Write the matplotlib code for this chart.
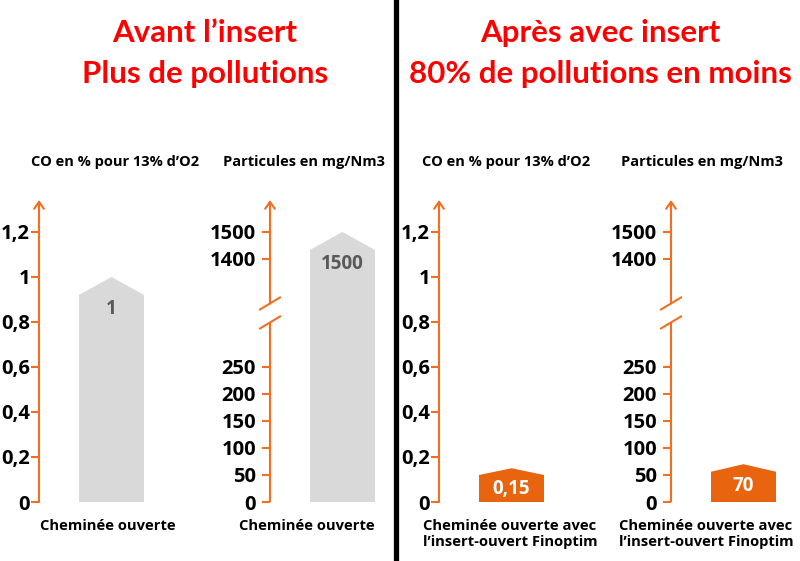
import numpy as np
import matplotlib
matplotlib.use("Agg")
import matplotlib.pyplot as plt
from matplotlib.transforms import IdentityTransform
from matplotlib.lines import Line2D

plt.rcParams["font.family"] = ["Open Sans", "DejaVu Sans"]

# data
titles = [["Avant l\u2019insert", "Plus de pollutions"],
          ["Apr\u00e8s avec insert", "80% de pollutions en moins"]]
measure_names = ["CO en % pour 13% d\u2019O2", "Particules en mg/Nm3"]
co_values = [1.0, 0.15]            # avant, apres
particle_values = [1500, 70]       # avant, apres
co_labels = ["1", "0,15"]
particle_labels = ["1500", "70"]
categories = ["Chemin\u00e9e ouverte", "Chemin\u00e9e ouverte avec\nl\u2019insert-ouvert Finoptim"]
co_ticks = [0, 0.2, 0.4, 0.6, 0.8, 1.0, 1.2]
particle_ticks = [0, 50, 100, 150, 200, 250, 1400, 1500]

ORANGE = "#F26F21"
BAR_ORANGE = "#E8640F"
GREY = "#D9D9D9"
W, H = 800, 561

# broken scale for particles: 0-250 and 1400-1500 shown, middle squeezed
brk_x = [-1000, 0, 250, 1400, 3000]
brk_y = [-2.4, 0, 0.6, 1.08, 3.0]


def fwd(v):
    return np.interp(v, brk_x, brk_y)


def inv(s):
    return np.interp(s, brk_y, brk_x)


fig = plt.figure(figsize=(W / 100, H / 100), dpi=100)
fig.patch.set_facecolor("white")

TOP = 1.342  # arrow tip, in CO units


def make_axes(xpix, broken):
    ax = fig.add_axes([xpix / W, (H - 502) / H, 130 / W, 302 / H])
    ax.set_xlim(0, 130)
    if broken:
        ax.set_yscale("function", functions=(fwd, inv))
        ax.set_ylim(0, inv(TOP))
    else:
        ax.set_ylim(0, TOP)
    for s in ax.spines.values():
        s.set_visible(False)
    ax.set_xticks([])
    ax.patch.set_alpha(0)
    ax.tick_params(axis="y", length=6, width=1.5, color=ORANGE,
                   pad=4 if broken else 0.5, labelsize=14.5)
    return ax


def axis_line(ax, start, stop, arrow):
    tr = ax.get_yaxis_transform()
    if arrow:
        ax.annotate("", xy=(0, stop), xytext=(0, start), xycoords=tr, textcoords=tr,
                    arrowprops=dict(arrowstyle="->,head_length=0.5,head_width=0.35",
                                    color=ORANGE, lw=1.5, shrinkA=0, shrinkB=0),
                    annotation_clip=False)
    else:
        ax.plot([0, 0], [start, stop], transform=tr, color=ORANGE, lw=1.5,
                clip_on=False, solid_capstyle="butt")


def house_bar(ax, x0, value, color, label, label_color, broken):
    width = 65
    s_top = fwd(value) if broken else value
    s_sh = s_top - min(0.08, 0.2 * s_top)
    sh = inv(s_sh) if broken else s_sh
    xs = [x0, x0, x0 + width / 2, x0 + width, x0 + width]
    ys = [0, sh, value, sh, 0]
    ax.fill(xs, ys, color=color, lw=0, clip_on=False)
    ax.annotate(label, xy=(x0 + width / 2, sh), xytext=(0, -10), textcoords="offset points",
                ha="center", va="center", fontsize=13.5, fontweight="bold", color=label_color)


panel_axes_x = [[39, 270], [439, 671]]
title_x = [205, 600]
sub_x = [[115, 304], [506, 702]]
cat_x = [[108, 307], [510, 706]]

for p in range(2):
    fig.text(title_x[p] / W, 1 - 33 / H, titles[p][0], ha="center", va="center",
             color="red", fontsize=22.5, fontweight="bold", family="Lato")
    fig.text(title_x[p] / W, 1 - 74 / H, titles[p][1], ha="center", va="center",
             color="red", fontsize=22.5, fontweight="bold", family="Lato")
    for m in range(2):
        broken = m == 1
        ax = make_axes(panel_axes_x[p][m], broken)
        if broken:
            ax.set_yticks(particle_ticks)
            ax.set_yticklabels([str(t) for t in particle_ticks], fontweight="bold")
        else:
            ax.set_yticks(co_ticks)
            ax.set_yticklabels([f"{t:g}".replace(".", ",") for t in co_ticks], fontweight="bold")

        if broken:
            mid = (fwd(250) + fwd(1400)) / 2
            fig.canvas.draw()
            y0 = ax.transData.transform((0, 0))[1]
            px_per = (ax.transData.transform((0, 1500))[1] - y0) / fwd(1500)
            cx, cy = ax.transData.transform((0, inv(mid)))
            lo, hi = cy - 9.5, cy + 9.5
            axis_line(ax, 0, inv((lo - y0) / px_per), False)
            axis_line(ax, inv((hi - y0) / px_per), inv(TOP), True)
            for yy in (lo, hi):
                fig.add_artist(Line2D([cx - 10, cx + 10], [yy - 6, yy + 6], color=ORANGE,
                                      lw=1.5, transform=IdentityTransform()))
        else:
            axis_line(ax, 0, TOP, True)

        value = (co_values if m == 0 else particle_values)[p]
        label = (co_labels if m == 0 else particle_labels)[p]
        house_bar(ax, 40, value, GREY if p == 0 else BAR_ORANGE, label,
                  "#595959" if p == 0 else "white", broken)

        fig.text(sub_x[p][m] / W, 1 - 162 / H, measure_names[m], ha="center", va="center",
                 fontsize=10.5, fontweight="bold")
        fig.text(cat_x[p][m] / W, 1 - 519 / H, categories[p], ha="center",
                 va="top", fontsize=10.6, fontweight="bold", linespacing=1.15)

fig.add_artist(Line2D([395.5 / W, 395.5 / W], [0, 1], color="black", lw=3.8,
                      transform=fig.transFigure))

fig.savefig("out.png", dpi=100)
